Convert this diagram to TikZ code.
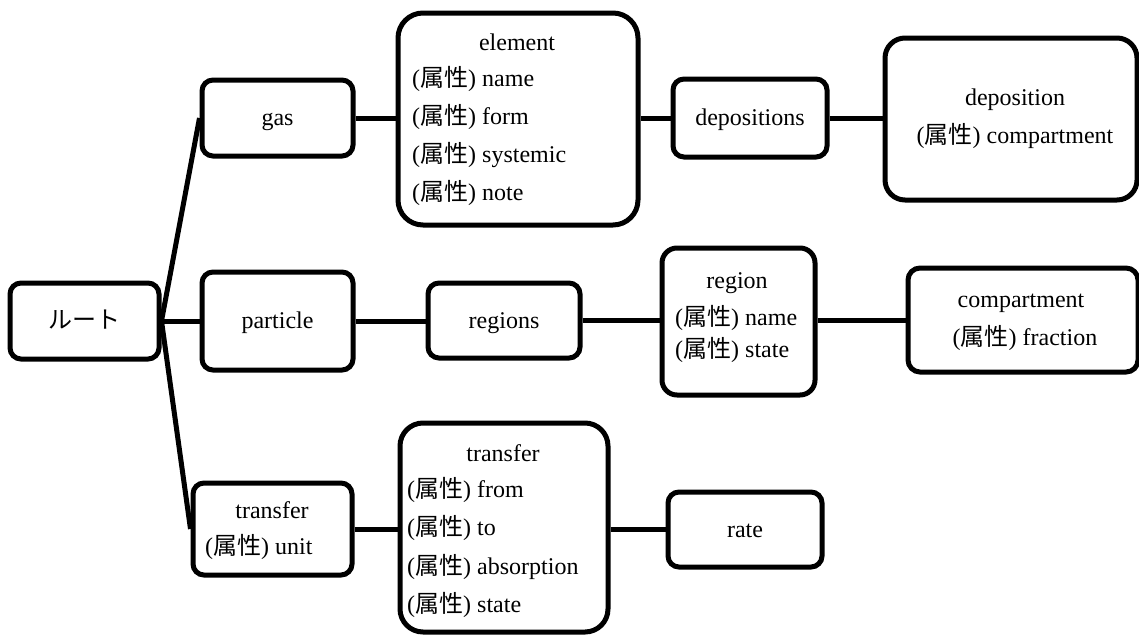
\documentclass[tikz,border=0pt]{standalone}
\usepackage{fontspec}
\setmainfont{Liberation Serif}
\newfontfamily\cjk{Noto Sans CJK JP}
\newcommand{\zokusei}{({\cjk 属性})}
\begin{document}
\begin{tikzpicture}[x=1pt,y=-1pt,
  box/.style={draw=black, line width=5pt, rounded corners=#1, fill=white,
    inner sep=0pt, text height=20pt, text depth=5pt,
    font=\fontsize{24}{28}\selectfont},
  box/.default=11pt,
  txt/.style={inner sep=0pt, font=\fontsize{24}{28}\selectfont},
  lt/.style={txt, anchor=west},
  link/.style={line width=5pt}]
\useasboundingbox (0,0) rectangle (1139,635);

% root
\node[box, minimum width=149pt, minimum height=76pt] (root) at (84.5,321) {\cjk ルート};

% first level
\node[box, minimum width=151pt, minimum height=76pt] (gas) at (277.5,118) {gas};
\node[box, minimum width=151pt, minimum height=98pt] (particle) at (277.5,321) {particle};
\node[box, minimum width=159pt, minimum height=92pt] (tunit) at (272.5,529) {};
\node[txt] (tunit-t) at (272,510) {transfer};
\node[lt] (tunit-a) at (205,547) {\zokusei\ unit};

% gas branch
\node[box=25pt, minimum width=240pt, minimum height=212pt] (element) at (518,119) {};
\node[txt] (element-t) at (517,42) {element};
\node[lt] (element-a) at (412,79) {\zokusei\ name};
\node[lt] (element-b) at (412,117) {\zokusei\ form};
\node[lt] (element-c) at (412,155) {\zokusei\ systemic};
\node[lt] (element-d) at (412,193) {\zokusei\ note};

\node[box, minimum width=154pt, minimum height=78pt] (depositions) at (750,118) {depositions};

\node[box=20pt, minimum width=252pt, minimum height=162pt] (deposition) at (1011,119) {};
\node[txt] (deposition-t) at (1015,100) {deposition};
\node[txt] (deposition-a) at (1015,136) {\zokusei\ compartment};

% particle branch
\node[box, minimum width=152pt, minimum height=75pt] (regions) at (504,320.5) {regions};

\node[box=15pt, minimum width=153pt, minimum height=147pt] (region) at (738.5,321.5) {};
\node[txt] (region-t) at (737,283) {region};
\node[lt] (region-a) at (675,318) {\zokusei\ name};
\node[lt] (region-b) at (675,350) {\zokusei\ state};

\node[box=12pt, minimum width=230pt, minimum height=104pt] (compartment) at (1023,320) {};
\node[txt] (compartment-t) at (1021,303) {compartment};
\node[txt] (compartment-a) at (1025,338) {\zokusei\ fraction};

% transfer branch
\node[box=23pt, minimum width=208pt, minimum height=209pt] (transfer) at (504,527.5) {};
\node[txt] (transfer-t) at (503,453) {transfer};
\node[lt] (transfer-a) at (407,490) {\zokusei\ from};
\node[lt] (transfer-b) at (407,528) {\zokusei\ to};
\node[lt] (transfer-c) at (407,567) {\zokusei\ absorption};
\node[lt] (transfer-d) at (407,605) {\zokusei\ state};

\node[box, minimum width=154pt, minimum height=75pt] (rate) at (745,529.5) {rate};

% connectors
\draw[link] (root.east) -- (gas.west);
\draw[link] (root.east) -- (particle.west);
\draw[link] (root.east) -- (tunit.west);
\draw[link] (gas.east) -- (gas.east -| element.west);
\draw[link] (element.east |- depositions.west) -- (depositions.west);
\draw[link] (depositions.east) -- (depositions.east -| deposition.west);
\draw[link] (particle.east) -- (particle.east -| regions.west);
\draw[link] (regions.east) -- (regions.east -| region.west);
\draw[link] (region.east |- compartment.west) -- (compartment.west);
\draw[link] (tunit.east) -- (tunit.east -| transfer.west);
\draw[link] (transfer.east |- rate.west) -- (rate.west);
\end{tikzpicture}
\end{document}
